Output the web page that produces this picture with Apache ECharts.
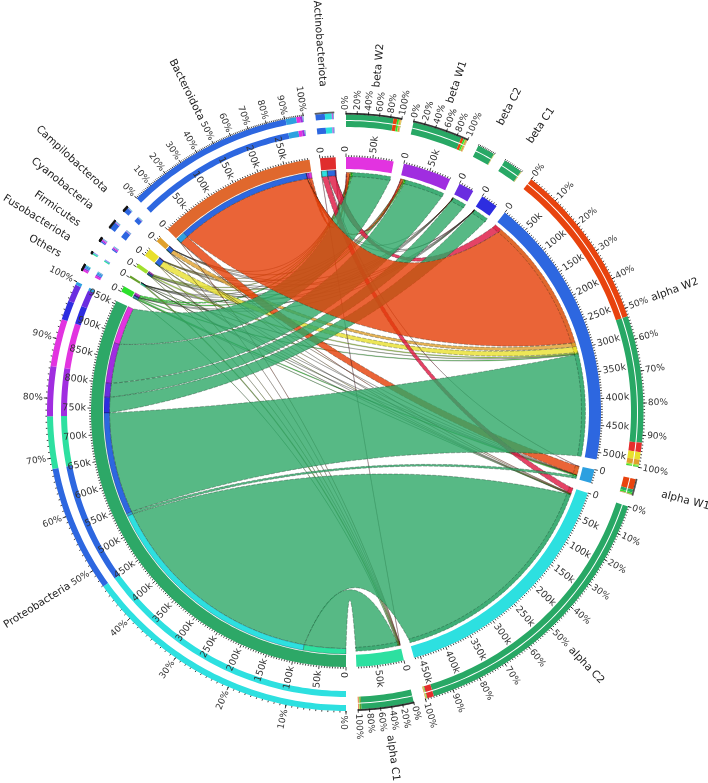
<!DOCTYPE html>
<html><head><meta charset="utf-8">
<style>html,body{margin:0;padding:0;background:#fff}#c{width:708px;height:783px}</style>
<script src="https://cdn.jsdelivr.net/npm/echarts@6/dist/echarts.min.js"></script>
</head><body><div id="c"></div>
<script>
// ---------- data (thousands of reads) ----------
const samples = ['beta W2','beta W1','beta C2','beta C1','alpha W2','alpha W1','alpha C2','alpha C1'];
const phyla = ['Proteobacteria','Others','Fusobacteriota','Firmicutes','Cyanobacteria','Campilobacterota','Bacteroidota','Actinobacteriota'];
// columns follow `samples`
const proteobacteria   = [76,80,28,31,204,5,448,84];
const others           = [3,2.5,0.1,0.1,1.5,2.5,0.8,0.6];
const fusobacteriota   = [0.2,0.2,0.1,0.1,0.6,0.1,0.5,2.2];
const firmicutes       = [1.6,1.8,0.2,0.2,2.2,0.2,0.5,0.5];
const cyanobacteria    = [0.8,0.6,0.2,0.2,12,0.2,0.5,0.5];
const campilobacterota = [0.4,0.4,0.1,0.1,8,0.3,0.4,0.3];
const bacteroidota     = [6,4,0.3,0.2,270,17,0.5,0.5];
const actinobacteriota = [1,1,0,0.3,15,0.5,11,0.5];
const flows = [proteobacteria,others,fusobacteriota,firmicutes,cyanobacteria,campilobacterota,bacteroidota,actinobacteriota];
// percent-label step per sector, 0 = no labels
const samplePctStep = [20,20,0,0,10,0,10,20];
const phylumPctStep = [10,0,0,0,0,0,10,0];
const sampleRingTick = [1,1,10,10,1,5,1,1];
const phylumRingTick = [1,2,5,2,2,2,1,5];

// ---------- styles ----------
const sampleColors = ['#e233e0','#a02de0','#6a2de0','#2d2de0','#2d67e0','#2da0e0','#2de0e0','#2de0a0'];
const phylumSector = ['#2da867','#2de02d','#67a02d','#a0e02d','#e8e02d','#e0a02d','#e0682d','#e02d2d'];
const phylumRing   = ['#28a865','#2de02d','#67a02d','#a0e02d','#e8e02d','#e0a02d','#e8430e','#e52d2d'];
const phylumRim    = ['#3fae76','#2de02d','#67a02d','#a0e02d','#e8e02d','#e0a02d','#e0682d','#e02d4d'];
const phylumRibbon = ['#2da867','#2de02d','#67a02d','#a0e02d','#e8e02d','#e0a02d','#e53d05','#dd1440'];
const FONT = '"DejaVu Sans", sans-serif';
const R = {outer:255, ringIn:243, thinIn:237, ribbon:236.5, sampleGapIn:239.5, sampleRimIn:235.5};
const GAP = 2.34;

// ---------- layout through the data ----------
const phyTotals = flows.map(r => r.reduce((a,b)=>a+b,0));
const smpTotals = samples.map((_,j)=>flows.reduce((a,r)=>a+r[j],0));
const grand = phyTotals.reduce((a,b)=>a+b,0);
const nSect = samples.length+phyla.length;
const deg = (360-GAP*nSect)/(2*grand);
let cur = 0;
const sectors = [];
samples.forEach((n,j)=>{sectors.push({name:n,kind:'s',i:j,total:smpTotals[j],a0:cur,a1:cur+smpTotals[j]*deg,color:sampleColors[j],pct:samplePctStep[j],rt:sampleRingTick[j]});cur+=smpTotals[j]*deg+GAP;});
phyla.forEach((n,i)=>{sectors.push({name:n,kind:'p',i:i,total:phyTotals[i],a0:cur,a1:cur+phyTotals[i]*deg,color:phylumSector[i],pct:phylumPctStep[i],rt:phylumRingTick[i]});cur+=phyTotals[i]*deg+GAP;});
const sS = sectors.filter(s=>s.kind==='s'), sP = sectors.filter(s=>s.kind==='p');

// ribbons: sample end stacked with the phyla reversed, phylum end with the samples reversed
const ends = flows.map(r=>r.map(()=>({})));
sS.forEach((s,j)=>{let a=s.a0;for(let i=phyla.length-1;i>=0;i--){const w=flows[i][j]*deg;ends[i][j].s0=a;ends[i][j].s1=a+w;a+=w;}});
sP.forEach((p,i)=>{let a=p.a0;for(let j=samples.length-1;j>=0;j--){const w=flows[i][j]*deg;ends[i][j].p0=a;ends[i][j].p1=a+w;a+=w;}});

// paint order: minor ribbons, then Proteobacteria, then the main Bacteroidota ribbon on top
const iProteo = phyla.indexOf('Proteobacteria'), iBact = phyla.indexOf('Bacteroidota'), jW2 = samples.indexOf('alpha W2');
const ribbons=[]; const thins=[];
flows.forEach((r,i)=>r.forEach((v,j)=>{if(v>0){const e=ends[i][j];
  ribbons.push({i,j,...e,big:v>=3,rank:(i===iBact&&j===jW2)?2:(i===iProteo?1:0)});
  thins.push({r0:R.ribbon,r1:R.outer-13,a0:e.p0,a1:e.p1,c:sampleColors[j],line:true});
  thins.push({r0:R.sampleRimIn,r1:R.sampleGapIn,a0:e.s0,a1:e.s1,c:phylumRim[i],line:true,dash:true});
}}));
ribbons.sort((a,b)=>a.rank-b.rank);

// percent rings: segments sorted by size
function segs(s){
  const vals = s.kind==='s' ? flows.map((r,i)=>({v:r[s.i],c:phylumRing[i]})) : flows[s.i].map((v,j)=>({v,c:sampleColors[j]}));
  vals.sort((a,b)=>b.v-a.v);
  let a=s.a0;const out=[];vals.forEach(x=>{if(x.v>0){const w=x.v*deg;out.push({a0:a,a1:a+w,c:x.c});a+=w;}});return out;
}
const arcs=[];
sectors.forEach(s=>{
  arcs.push({r0:R.ringIn,r1:R.outer,a0:s.a0,a1:s.a1,c:s.color});
  const rings = s.kind==='s' ? [[285,291],[292,297.5]] : [[279,285],[293,299]];
  rings.forEach(rr=>segs(s).forEach(g=>arcs.push({r0:rr[0],r1:rr[1],a0:g.a0,a1:g.a1,c:g.c})));
});

// ticks and labels
const ticks=[], labels=[];
sectors.forEach(s=>{
  for(let v=0;v<=s.total+1e-6;v+=5){
    const major=v%50===0;
    ticks.push({r0:R.outer,r1:R.outer+(major?3.5:1.8),a:s.a0+v*deg});
    if(major) labels.push({r:R.outer+5,a:s.a0+v*deg,t:v===0?'0':v+'k',fs:9.5,c:'#333'});
  }
  const top = s.kind==='s'?297.5:299;
  for(let p=0;p<=100;p+=s.rt){
    const a=s.a0+(s.a1-s.a0)*p/100;
    ticks.push({r0:top,r1:top+1.6,a});
  }
  if(s.pct){for(let p=0;p<=100;p+=s.pct){
    const a=s.a0+(s.a1-s.a0)*p/100;
    ticks.push({r0:top,r1:top+3.5,a});
    labels.push({r:top+4.5,a,t:p+'%',fs:9,c:'#333'});
  }}
  labels.push({r:326,a:(s.a0+s.a1)/2,t:s.name,fs:10.5,c:'#222'});
});

// ---------- renderers ----------
function arcPts(api,r,a0,a1){const n=Math.max(2,Math.ceil(Math.abs(a1-a0)/1)+1),o=[];for(let k=0;k<n;k++){o.push(api.coord([r,a0+(a1-a0)*k/(n-1)]));}return o;}
function bez(api,r0,a0,r1,a1){
  let d=((a1-a0)%360+360)%360; let sep=d>180?360-d:d;
  const mid=d>180?a0-sep/2:a0+sep/2;
  const k=Math.max(0.05,0.6-0.46*sep/135);
  const P=api.coord([r0,a0]),C=api.coord([k*R.ribbon,mid]),Q=api.coord([r1,a1]);
  const o=[];for(let t=0;t<=1.0001;t+=1/36){const u=1-t;o.push([u*u*P[0]+2*u*t*C[0]+t*t*Q[0],u*u*P[1]+2*u*t*C[1]+t*t*Q[1]]);}
  return o;
}
const allArcs=arcs.concat(thins);
const base={coordinateSystem:'polar',type:'custom',silent:true,clip:false,animation:false,progressive:0};
const option={
  animation:false,
  polar:{center:[346,412],radius:[0,330]},
  angleAxis:{type:'value',min:0,max:360,startAngle:90,clockwise:true,show:false},
  radiusAxis:{type:'value',min:0,max:330,show:false},
  series:[
    {...base,name:'ribbons',z:2,data:ribbons.map((r,i)=>[R.ribbon,r.p0,i]),renderItem(p,api){
      const f=ribbons[p.dataIndex],rr=R.ribbon;
      const pts=[...arcPts(api,rr,f.p0,f.p1),...bez(api,rr,f.p1,rr,f.s0),...arcPts(api,rr,f.s0,f.s1),...bez(api,rr,f.s1,rr,f.p0)];
      return {type:'polygon',shape:{points:pts},style:{fill:phylumRibbon[f.i],opacity:0.8,stroke:f.big?'rgba(15,30,20,0.75)':'rgba(25,25,25,0.7)',lineWidth:f.big?0.5:0.4,lineDash:f.big?[4,1.5]:null}};
    }},
    {...base,name:'arcs',z:3,data:allArcs.map(a=>[a.r1,a.a0]),renderItem(p,api){
      const a=allArcs[p.dataIndex];
      const pts=[...arcPts(api,a.r1,a.a0,a.a1),...arcPts(api,a.r0,a.a1,a.a0)];
      return {type:'polygon',shape:{points:pts},style:{fill:a.c,stroke:a.line?'rgba(0,0,0,0.6)':null,lineWidth:0.4,lineDash:a.dash?[3,1.5]:null}};
    }},
    {...base,name:'ticks',z:4,data:ticks.map(t=>[t.r1,t.a]),renderItem(p,api){
      const t=ticks[p.dataIndex];const A=api.coord([t.r0,t.a]),B=api.coord([t.r1,t.a]);
      return {type:'line',shape:{x1:A[0],y1:A[1],x2:B[0],y2:B[1]},style:{stroke:'#111',lineWidth:0.8}};
    }},
    {...base,name:'labels',z:5,data:labels.map(l=>[l.r,l.a]),renderItem(p,api){
      const l=labels[p.dataIndex];const P=api.coord([l.r,l.a]);
      const a=((l.a%360)+360)%360;const right=a<180;
      const rot=(right?90-a:270-a)*Math.PI/180;
      return {type:'text',x:P[0],y:P[1],rotation:rot,style:{text:l.t,fill:l.c,fontSize:l.fs,fontFamily:FONT,align:right?'left':'right',verticalAlign:'middle'}};
    }}
  ]
};
const chart=echarts.init(document.getElementById('c'),null,{renderer:'canvas',width:708,height:783});
chart.setOption(option);
</script></body></html>
